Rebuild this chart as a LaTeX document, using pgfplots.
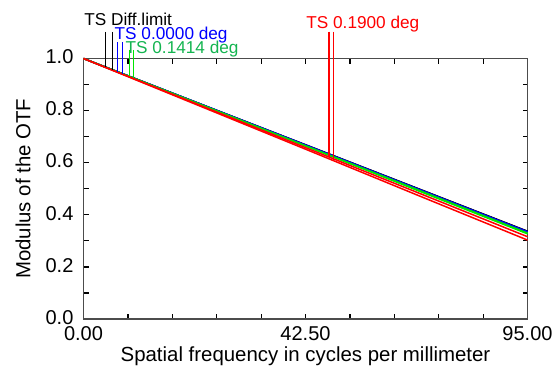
\documentclass[border=0pt]{standalone}
\usepackage{fontspec}
\setmainfont{Liberation Sans}
\usepackage{pgfplots}
\pgfplotsset{compat=1.18}
\usetikzlibrary{calc}
\definecolor{zblue}{RGB}{0,0,255}
\definecolor{zgreen}{RGB}{0,230,0}
\definecolor{zgreentext}{RGB}{20,180,80}
\definecolor{zred}{RGB}{255,0,0}
\begin{document}
\begin{tikzpicture}
\begin{axis}[
  scale only axis, width=222pt, height=130.25pt,
  xmin=0, xmax=85, ymin=0, ymax=1,
  clip=false,
  xtick={0,42.5,85}, xticklabels={0.00,42.50,95.00},
  minor xtick={8.5,17,25.5,34,51,59.5,68,76.5},
  ytick={0,0.2,0.4,0.6,0.8,1.0}, yticklabels={0.0,0.2,0.4,0.6,0.8,1.0},
  minor ytick={0.1,0.3,0.5,0.7,0.9},
  tick align=inside, major tick length=2.5pt, minor tick length=2.5pt,
  tick style={black, line width=0.6pt},
  axis line style={line width=0.75pt, black!70},
  /pgf/number format/assume math mode=true,
  tick label style={font=\fontsize{10}{12}\selectfont},
  xticklabel style={yshift=-0.3pt},
  yticklabel style={xshift=-1.5pt, yshift=0.8pt},
  label style={font=\fontsize{10.2}{12}\selectfont},
  xlabel={Spatial frequency in cycles per millimeter},
  ylabel={Modulus of the OTF},
  xlabel style={at={(axis description cs:0.5,-0.1440)}, anchor=center},
  ylabel style={at={(axis description cs:-0.1363,0.5)}, anchor=center},
]
\coordinate (sw) at (rel axis cs:0,0);
\coordinate (ne) at (rel axis cs:1,1);
% curves
\addplot[black, line width=0.75pt] coordinates {(0,1) (21.25,0.834) (42.5,0.669) (63.75,0.503) (85,0.337)};
\addplot[black, line width=0.75pt] coordinates {(0,1) (21.25,0.834) (42.5,0.668) (63.75,0.502) (85,0.336)};
\addplot[zblue, line width=0.75pt] coordinates {(0,1) (21.25,0.834) (42.5,0.668) (63.75,0.501) (85,0.335)};
\addplot[zblue, line width=0.75pt] coordinates {(0,1) (21.25,0.834) (42.5,0.667) (63.75,0.501) (85,0.334)};
\addplot[zgreen, line width=0.75pt] coordinates {(0,1) (21.25,0.833) (42.5,0.665) (63.75,0.498) (85,0.330)};
\addplot[zgreen, line width=0.75pt] coordinates {(0,1) (21.25,0.832) (42.5,0.664) (63.75,0.495) (85,0.327)};
\addplot[zred, line width=0.75pt] coordinates {(0,1) (21.25,0.829) (42.5,0.658) (63.75,0.487) (85,0.316)};
\addplot[zred, line width=0.75pt] coordinates {(0,1) (21.25,0.826) (42.5,0.652) (63.75,0.477) (85,0.303)};
% marker lines
\addplot[black, line width=0.6pt] coordinates {(4.25,1.102) (4.25,0.967)};
\addplot[black, line width=0.6pt] coordinates {(5.51,1.102) (5.51,0.957)};
\addplot[zblue, line width=0.6pt] coordinates {(6.55,1.063) (6.55,0.949)};
\addplot[zblue, line width=0.6pt] coordinates {(7.50,1.063) (7.50,0.941)};
\addplot[zgreen, line width=0.6pt] coordinates {(8.77,1.033) (8.77,0.931)};
\addplot[zgreen, line width=0.6pt] coordinates {(9.53,1.033) (9.53,0.925)};
\addplot[zred, line width=0.6pt] coordinates {(47.0,1.103) (47.0,0.622)};
\addplot[zred, line width=0.6pt] coordinates {(47.8,1.103) (47.8,0.608)};
% labels
\node[anchor=base west, inner sep=0, font=\fontsize{8.6}{10}\selectfont, black] at (axis cs:0.1,1.125) {TS Diff.limit};
\node[anchor=base west, inner sep=0, font=\fontsize{8.6}{10}\selectfont, zblue] at (axis cs:5.9,1.074) {TS 0.0000 deg};
\node[anchor=base west, inner sep=0, font=\fontsize{8.6}{10}\selectfont, zgreentext] at (axis cs:8.0,1.020) {TS 0.1414 deg};
\node[anchor=base west, inner sep=0, font=\fontsize{8.6}{10}\selectfont, zred] at (axis cs:42.6,1.116) {TS 0.1900 deg};
\end{axis}
\pgfresetboundingbox
\path[use as bounding box] ($(sw)+(-41.75pt,-28.5pt)$) rectangle ($(ne)+(12.75pt,29.25pt)$);
\end{tikzpicture}
\end{document}
